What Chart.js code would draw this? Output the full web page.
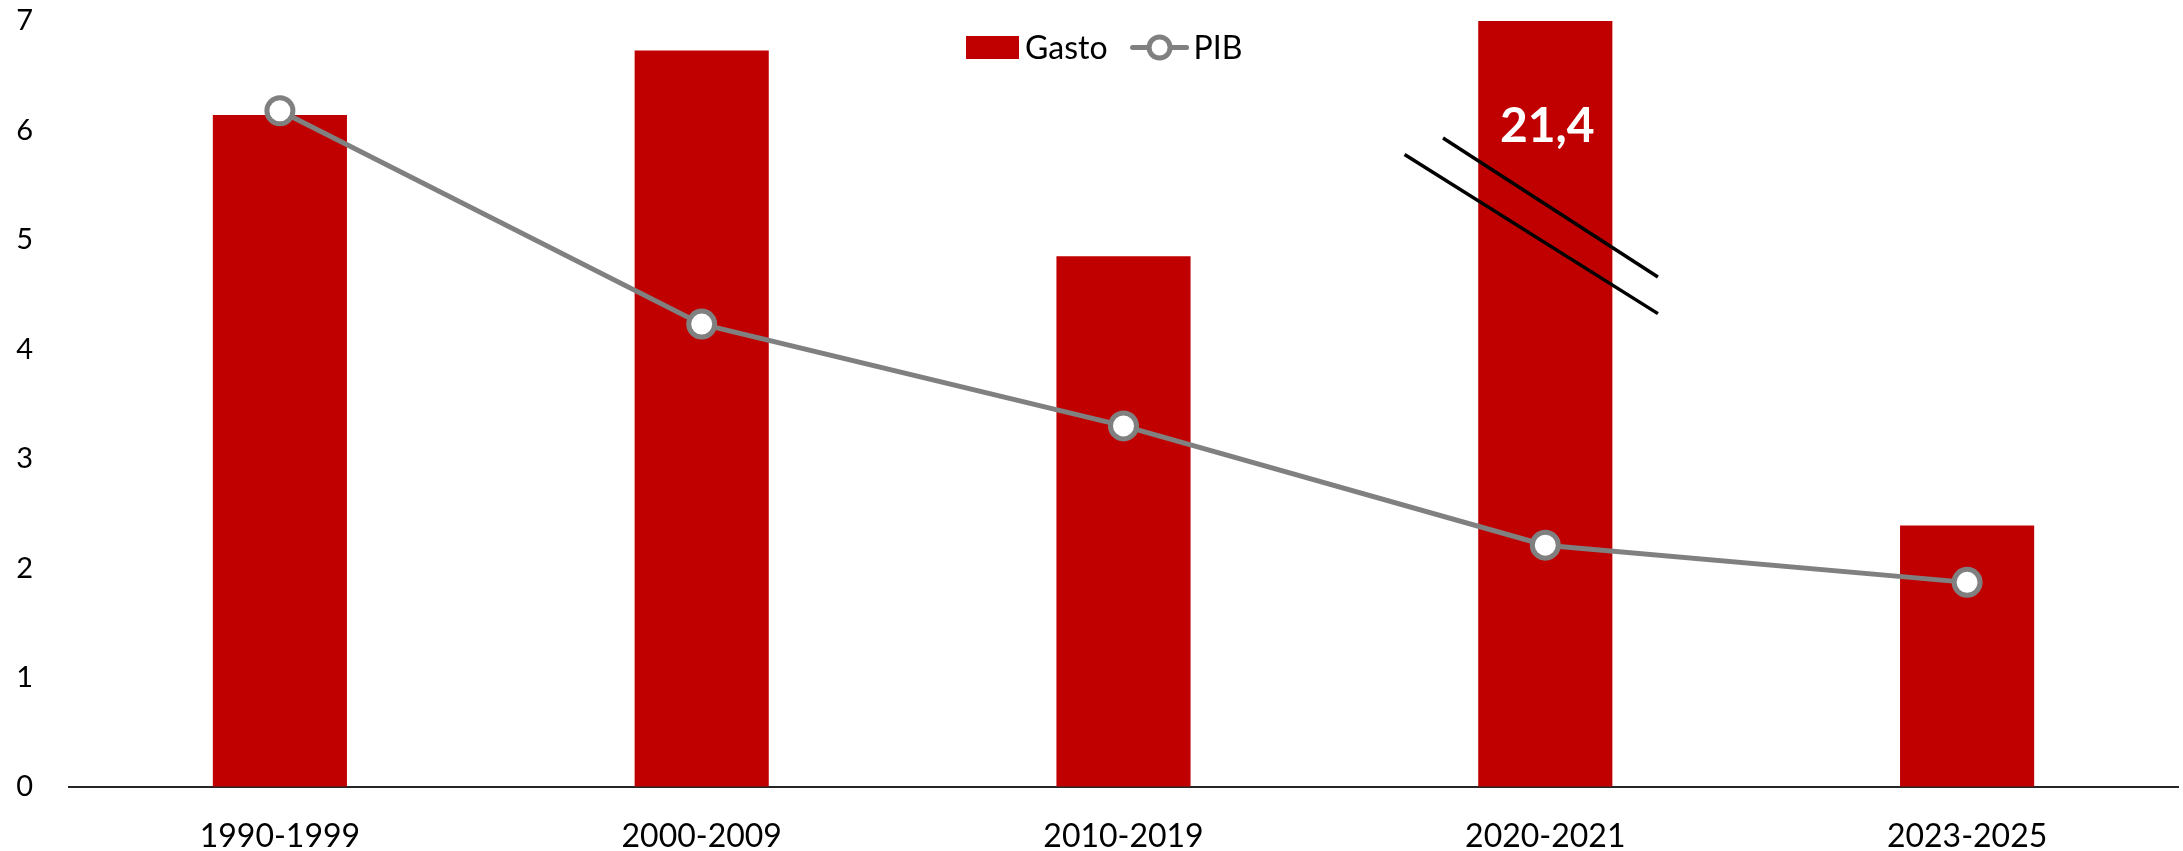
<!DOCTYPE html>
<html>
<head>
<meta charset="utf-8">
<script src="https://cdn.jsdelivr.net/npm/chart.js@4.4.1/dist/chart.umd.min.js"></script>
<style>
  html, body { margin: 0; padding: 0; background: #ffffff; overflow: hidden; }
  #wrap { position: relative; width: 2183px; height: 851px; }
  #c { display: block; }
</style>
</head>
<body>
<div id="wrap"><canvas id="c"></canvas></div>
<script>
// ---- Data ----
const categories = ['1990-1999', '2000-2009', '2010-2019', '2020-2021', '2023-2025'];
const gasto = [6.14, 6.73, 4.85, 21.4, 2.39];
const pib = [6.18, 4.23, 3.30, 2.21, 1.87];
const yTickMin = 0;
const yTickMax = 7;
const yTickStep = 1;
const seriesNames = ['Gasto', 'PIB'];
const clippedIndex = 3; // bar that exceeds the axis (value label shown)

const RED = '#C00000';
const GREY = '#808080';
const FONT = 'Lato, "Open Sans", sans-serif';

// Break marks & value label for the clipped bar (drawn through scales)
const breakPlugin = {
  id: 'breakMarks',
  afterDatasetsDraw(chart) {
    const { ctx, scales: { x, y } } = chart;
    const cw = x.getPixelForValue(1) - x.getPixelForValue(0);
    const cx = x.getPixelForValue(clippedIndex);
    const px = f => cx + f * cw;
    ctx.save();
    // value label
    ctx.fillStyle = '#FFFFFF';
    ctx.font = 'bold 48px ' + FONT;
    ctx.textAlign = 'center';
    ctx.textBaseline = 'middle';
    ctx.fillText(String(gasto[clippedIndex]).replace('.', ','), cx + 2, y.getPixelForValue(6.04));
    // two break lines
    ctx.strokeStyle = '#000000';
    ctx.lineWidth = 3.5;
    ctx.lineCap = 'butt';
    const segs = [
      [-0.2425, 5.93, 0.267, 4.66],
      [-0.3336, 5.78, 0.267, 4.326]
    ];
    segs.forEach(s => {
      ctx.beginPath();
      ctx.moveTo(px(s[0]), y.getPixelForValue(s[1]));
      ctx.lineTo(px(s[2]), y.getPixelForValue(s[3]));
      ctx.stroke();
    });
    ctx.restore();
  }
};

// Custom legend drawn on top of the plot area (as in the original)
const legendPlugin = {
  id: 'overlayLegend',
  afterDraw(chart) {
    const { ctx } = chart;
    ctx.save();
    ctx.font = '32px ' + FONT;
    ctx.textBaseline = 'middle';
    ctx.textAlign = 'left';
    const cy = 47.5;
    let xPos = 966;
    // Gasto box
    ctx.fillStyle = RED;
    ctx.fillRect(xPos, 36, 53, 23);
    xPos += 53 + 6;
    ctx.fillStyle = '#000000';
    ctx.fillText(seriesNames[0], xPos, cy + 1);
    xPos += ctx.measureText(seriesNames[0]).width + 25;
    // PIB line + marker
    ctx.strokeStyle = GREY;
    ctx.lineWidth = 5;
    ctx.lineCap = 'round';
    ctx.beginPath();
    ctx.moveTo(xPos, cy);
    ctx.lineTo(xPos + 54, cy);
    ctx.stroke();
    ctx.beginPath();
    ctx.arc(xPos + 27, cy, 10.5, 0, Math.PI * 2);
    ctx.fillStyle = '#FFFFFF';
    ctx.fill();
    ctx.lineWidth = 5;
    ctx.stroke();
    xPos += 54 + 7;
    ctx.fillStyle = '#000000';
    ctx.fillText(seriesNames[1], xPos, cy + 1);
    ctx.restore();
  }
};

new Chart(document.getElementById('c'), {
  data: {
    labels: categories,
    datasets: [
      {
        type: 'line',
        label: seriesNames[1],
        data: pib,
        order: 0,
        borderColor: GREY,
        borderWidth: 5,
        pointRadius: 13,
        pointHoverRadius: 13,
        pointBackgroundColor: '#FFFFFF',
        pointBorderColor: GREY,
        pointBorderWidth: 5,
        tension: 0,
        fill: false
      },
      {
        type: 'bar',
        label: seriesNames[0],
        data: gasto,
        order: 1,
        backgroundColor: RED,
        borderWidth: 0,
        barPercentage: 0.318,
        categoryPercentage: 1.0
      }
    ]
  },
  options: {
    responsive: true,
    maintainAspectRatio: false,
    animation: false,
    events: [],
    layout: { autoPadding: false, padding: { top: 21, right: 5, left: 0, bottom: 0 } },
    plugins: {
      legend: { display: false },
      tooltip: { enabled: false }
    },
    scales: {
      x: {
        grid: {
          display: true,
          drawOnChartArea: false,
          drawTicks: true,
          tickLength: 30,
          color: 'rgba(0,0,0,0)'
        },
        border: { display: true, color: '#262626', width: 2 },
        ticks: {
          color: '#000000',
          font: { family: FONT, size: 32 },
          padding: 0,
          maxRotation: 0,
          autoSkip: false
        },
        afterFit(scale) { scale.height = 64; }
      },
      y: {
        min: yTickMin,
        max: yTickMax,
        grid: {
          display: true,
          drawOnChartArea: false,
          drawTicks: true,
          tickLength: 36,
          color: 'rgba(0,0,0,0)'
        },
        border: { display: false },
        ticks: {
          stepSize: yTickStep,
          color: '#000000',
          font: { family: FONT, size: 29 },
          padding: 0
        },
        afterFit(scale) { scale.width = 69; }
      }
    }
  },
  plugins: [breakPlugin, legendPlugin]
});
</script>
</body>
</html>
